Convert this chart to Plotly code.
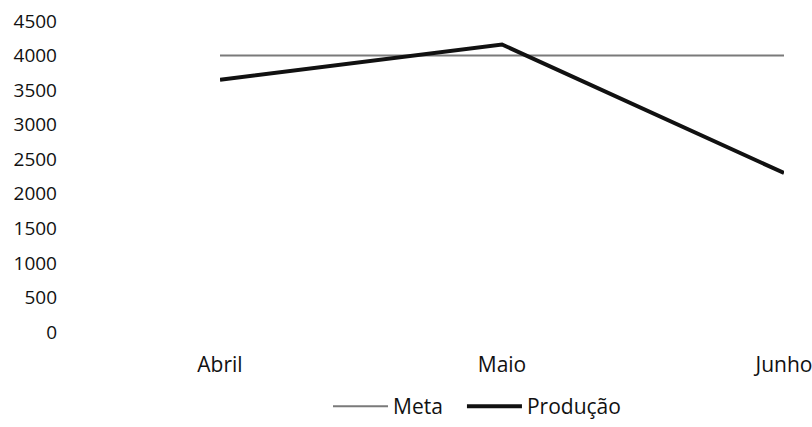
import plotly.graph_objects as go

meses = ["Abril", "Maio", "Junho"]
meta = [4000, 4000, 4000]
producao = [3650, 4160, 2300]
y_ticks = [0, 500, 1000, 1500, 2000, 2500, 3000, 3500, 4000, 4500]

ink = "#111111"
yfont = dict(family="Open Sans", size=19, color=ink)
xfont = dict(family="Open Sans", size=21, color=ink)
lfont = dict(family="Open Sans", size=21, color=ink)

fig = go.Figure()
fig.add_trace(go.Scatter(x=meses, y=meta, name="Meta", mode="lines",
                         line=dict(color="#7a7a7a", width=2), legend="legend"))
fig.add_trace(go.Scatter(x=meses, y=producao, name="Produção", mode="lines",
                         line=dict(color=ink, width=4), legend="legend2"))

leg_common = dict(orientation="h", xanchor="left", xref="paper",
                  y=0, yanchor="bottom", yref="container",
                  font=lfont, itemwidth=55, bgcolor="rgba(0,0,0,0)")

fig.update_layout(
    width=812, height=427,
    margin=dict(l=220, r=28, t=21, b=95, autoexpand=False),
    paper_bgcolor="white", plot_bgcolor="white",
    font=yfont,
    showlegend=True,
    legend=dict(x=0.1915, **leg_common),
    legend2=dict(x=0.429, **leg_common),
    xaxis=dict(type="category", range=[0, 2], showgrid=False, showline=False,
               zeroline=False, ticks="", ticklabelstandoff=18, tickfont=xfont,
               automargin=False),
    yaxis=dict(range=[0, 4500], tickvals=y_ticks, showgrid=False, showline=False,
               zeroline=False, ticks="", ticklabelstandoff=162, tickfont=yfont,
               automargin=False),
)

fig.write_html("out.html", config={"displayModeBar": False},
               post_script="document.body.style.margin='0px';")
